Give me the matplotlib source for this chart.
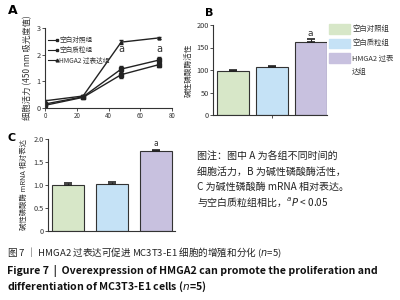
import matplotlib.pyplot as plt
import numpy as np

plt.rcParams['font.family'] = ['Noto Sans CJK SC', 'DejaVu Sans']

# panel A: cell viability over time
hours = [0, 24, 48, 72]
ctrl = [0.15, 0.42, 1.46, 1.80]
ctrl_err = [0.03, 0.04, 0.10, 0.10]
vec = [0.10, 0.40, 1.25, 1.63]
vec_err = [0.03, 0.04, 0.12, 0.08]
hmga2 = [0.27, 0.45, 2.47, 2.63]
hmga2_err = [0.03, 0.04, 0.08, 0.03]
group_names = ['空白对照组', '空白质粒组', 'HMGA2 过表达组']

# panel B: ALP activity
alp = [98, 107, 163]
alp_err = [3, 3, 6]

# panel C: ALP mRNA
mrna = [1.01, 1.03, 1.74]
mrna_err = [0.03, 0.03, 0.03]

bar_colors = ['#d7e7c8', '#c5e2f6', '#c8c1df']
W, H = 400, 300


def px_axes(fig, x0, y0, x1, y1):
    # pixel box (top-left origin) -> axes
    return fig.add_axes([x0 / W, 1 - y1 / H, (x1 - x0) / W, (y1 - y0) / H])


def style(ax):
    for s in ['top', 'right']:
        ax.spines[s].set_visible(False)
    for s in ['left', 'bottom']:
        ax.spines[s].set_linewidth(0.8)
        ax.spines[s].set_color('#333333')
    ax.tick_params(labelsize=5.3, width=0.6, length=2, pad=1, colors='#333333')


fig = plt.figure(figsize=(4, 3), dpi=100)

# ---- A ----
axA = px_axes(fig, 45, 28, 172, 108)
style(axA)
axA.errorbar(hours, ctrl, yerr=ctrl_err, color='#222222', lw=1, marker='s', ms=2.5,
             capsize=1.5, elinewidth=0.8)
axA.errorbar(hours, vec, yerr=vec_err, color='#222222', lw=1, marker='s', ms=2.5,
             capsize=1.5, elinewidth=0.8)
axA.errorbar(hours, hmga2, yerr=hmga2_err, color='#222222', lw=1, marker='^', ms=2,
             capsize=1.5, elinewidth=0.8)
axA.set_xlim(0, 80)
axA.set_ylim(0, 3)
axA.set_xticks([0, 20, 40, 60, 80])
axA.set_yticks([0, 1, 2, 3])
axA.tick_params(axis='x', labelsize=4.5)
axA.text(48, 2.1, 'a', fontsize=7, ha='center', color='#333333', family='DejaVu Sans')
axA.text(72, 2.1, 'a', fontsize=7, ha='center', color='#333333', family='DejaVu Sans')
axA.set_ylabel('细胞活力 (450 nm 吸光度值)', fontsize=6, labelpad=3, color='#333333')
for i, (nm, mk) in enumerate(zip(group_names, ['s', 's', '^'])):
    yy = 40 + i * 10
    fig.add_artist(plt.Line2D([48 / W, 57 / W], [1 - yy / H, 1 - yy / H], color='#222222',
                              lw=0.8, marker=mk, ms=2, markevery=[1]))
    fig.text(59 / W, 1 - yy / H, nm, fontsize=4.8, va='center', color='#333333')

# ---- B ----
axB = px_axes(fig, 213, 25, 327, 115)
style(axB)
xb = np.arange(3)
axB.bar(xb, alp, width=0.82, color=bar_colors, edgecolor='#333333', lw=0.8)
axB.errorbar(xb, alp, yerr=[[0, 0, 0], alp_err], fmt='none', ecolor='#222222',
             capsize=3, elinewidth=0.8, capthick=1.2)
axB.set_xlim(-0.52, 2.42)
axB.set_ylim(0, 200)
axB.set_yticks([0, 50, 100, 150, 200])
axB.set_xticks([1])
axB.set_xticklabels([''])
axB.text(2, 175, 'a', fontsize=6.5, ha='center', color='#333333', family='DejaVu Sans')
axB.set_ylabel('碱性磷酸酶活性', fontsize=5.5, labelpad=3, color='#333333')
leg_names = ['空白对照组', '空白质粒组', 'HMGA2 过表']
for i, (nm, c) in enumerate(zip(leg_names, bar_colors)):
    yy = 29 + i * 14.5
    fig.patches.append(plt.Rectangle((329 / W, 1 - (yy + 4.5) / H), 21 / W, 9 / H,
                                     transform=fig.transFigure, color=c))
    fig.text(352 / W, 1 - yy / H, nm, fontsize=5.3, va='center', color='#333333')
fig.text(352 / W, 1 - 72 / H, '达组', fontsize=5.3, va='center', color='#333333')

# ---- C ----
axC = px_axes(fig, 48, 139, 175, 231)
style(axC)
axC.bar(xb, mrna, width=0.72, color=bar_colors, edgecolor='#333333', lw=0.8)
axC.errorbar(xb, mrna, yerr=[[0, 0, 0], mrna_err], fmt='none', ecolor='#222222',
             capsize=3, elinewidth=0.8, capthick=1.2)
axC.set_xlim(-0.44, 2.42)
axC.set_ylim(0, 2)
axC.set_yticks([0, 0.5, 1.0, 1.5, 2.0])
axC.set_yticklabels(['0', '0.5', '1.0', '1.5', '2.0'])
axC.set_xticks([])
axC.text(2, 1.85, 'a', fontsize=5.5, ha='center', color='#333333', family='DejaVu Sans')
axC.set_ylabel('碱性磷酸酶 mRNA 相对表达', fontsize=5.3, labelpad=4, color='#333333')

# panel letters
fig.text(8 / W, 1 - 10 / H, 'A', fontsize=9, fontweight='bold', va='center', family='DejaVu Sans')
fig.text(205 / W, 1 - 13 / H, 'B', fontsize=8, fontweight='bold', va='center', family='DejaVu Sans')
fig.text(7 / W, 1 - 138 / H, 'C', fontsize=8, fontweight='bold', va='center', family='DejaVu Sans')

# note
note = ['图注：图中 A 为各组不同时间的',
        '细胞活力，B 为碱性磷酸酶活性，',
        'C 为碱性磷酸酶 mRNA 相对表达。',
        '与空白质粒组相比，$^a$$P$ < 0.05']
for i, ln in enumerate(note):
    fig.text(197 / W, 1 - (157 + i * 15) / H, ln, fontsize=7.2, va='center', color='#222222')

# caption
fig.text(7 / W, 1 - 253 / H, '图 7 ｜ HMGA2 过表达可促进 MC3T3-E1 细胞的增殖和分化 ($n$=5)',
         fontsize=6.9, va='center', color='#222222')
fig.text(7 / W, 1 - 271 / H, 'Figure 7  |  Overexpression of HMGA2 can promote the proliferation and',
         fontsize=7.6, va='center', fontweight='bold', color='#111111')
fig.text(7 / W, 1 - 287 / H, 'differentiation of MC3T3-E1 cells ($n$=5)',
         fontsize=7.6, va='center', fontweight='bold', color='#111111')

fig.savefig('out.png', dpi=100)
